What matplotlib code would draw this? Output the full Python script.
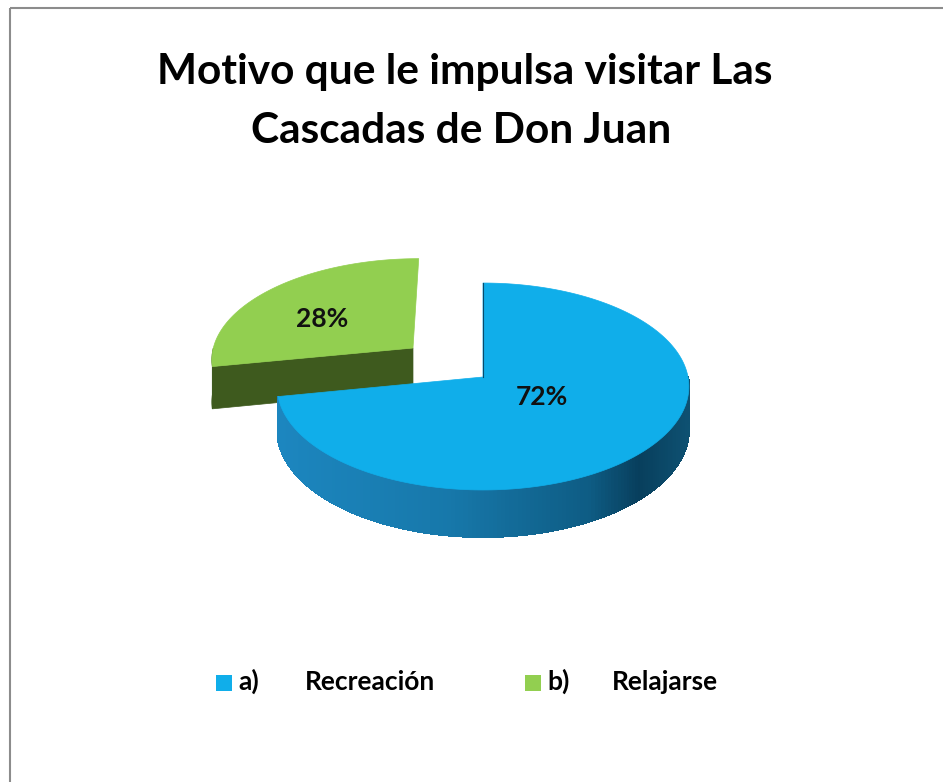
import numpy as np
import matplotlib.pyplot as plt
from matplotlib.patches import Polygon, Rectangle
from matplotlib.colors import to_rgb

# Survey data
letters = ['a)', 'b)']
names = ['Recreación', 'Relajarse']
values = [72, 28]
pct_labels = ['72%', '28%']

top_colors = ['#10AEEA', '#92CF50']
side_green = '#3E5A1E'
# blue rim shading stops (screen x -> colour)
rim_x = [281, 450, 590, 640, 690]
rim_c = ['#1C86BF', '#1778AA', '#0E5C84', '#083F5D', '#0E5172']

title_lines = ['Motivo que le impulsa visitar Las', 'Cascadas de Don Juan']

# pie geometry in pixels (simple perspective)
CX, CY = 483, 377
A, B, K, H = 205, 102.6, 0.0918, 42.7
EXPLODE = 0.455

W, Hpx = 943, 782
fig = plt.figure(figsize=(W / 100, Hpx / 100), dpi=100)
ax = fig.add_axes([0, 0, 1, 1])
ax.set_xlim(0, W)
ax.set_ylim(Hpx, 0)
ax.axis('off')

FONT = 'Lato'


def proj(u, v, w=0.0):
    s = 1 + K * v
    return CX + A * u / s, CY - (B * v + H * w) / s


def arc(t0, t1, ou, ov, w=0.0, n=120):
    t = np.radians(np.linspace(t0, t1, n))
    return [proj(np.cos(a) + ou, np.sin(a) + ov, w) for a in t]


def rim_color(x):
    cols = np.array([to_rgb(c) for c in rim_c])
    return tuple(np.interp(x, rim_x, cols[:, i]) for i in range(3))


# slice angles, clockwise from 12 o'clock
total = sum(values)
start = 90.0
blue_end = start - values[0] / total * 360   # -169.2
green_end = blue_end - values[1] / total * 360  # -270

# exploded green slice
mid = np.radians((blue_end + green_end) / 2)
gu, gv = EXPLODE * np.cos(mid), EXPLODE * np.sin(mid)
e_ang = np.radians(blue_end)
eu, ev = np.cos(e_ang) + gu, np.sin(e_ang) + gv
face = [proj(gu, gv), proj(eu, ev), proj(eu, ev, -1), proj(gu, gv, -1)]
ax.add_patch(Polygon(face, closed=True, fc=side_green, ec=side_green, lw=0.5))
rim = arc(blue_end + 360, 180, gu, gv) + arc(180, blue_end + 360, gu, gv, -1)
ax.add_patch(Polygon(rim, closed=True, fc=side_green, ec=side_green, lw=0.5))
gtop = [proj(gu, gv)] + arc(green_end + 360, blue_end + 360, gu, gv)
ax.add_patch(Polygon(gtop, closed=True, fc=top_colors[1], ec=top_colors[1], lw=0.5))

# blue rim, drawn in thin strips for shading
ts = np.linspace(blue_end, 0, 160)
for a0, a1 in zip(ts[:-1], ts[1:]):
    p = arc(a0, a1, 0, 0, 0, 3) + arc(a1, a0, 0, 0, -1, 3)
    c = rim_color(np.mean([q[0] for q in p]))
    ax.add_patch(Polygon(p, closed=True, fc=c, ec=c, lw=0.8, antialiased=False))

btop = [proj(0, 0)] + arc(start, blue_end, 0, 0, 0, 240)
ax.add_patch(Polygon(btop, closed=True, fc=top_colors[0], ec=top_colors[0], lw=0.5))
# thin dark line on the cut edge
ax.plot([proj(0, 0)[0], proj(0, 1)[0]], [proj(0, 0)[1], proj(0, 1)[1]],
        color='#0B4A6A', lw=0.8)

# percentage labels
ax.text(542, 397, pct_labels[0], ha='center', va='center', fontsize=19,
        fontweight='bold', family=FONT, color='#111111')
ax.text(322, 319, pct_labels[1], ha='center', va='center', fontsize=19,
        fontweight='bold', family=FONT, color='#111111')

# title
ax.text(465, 84, title_lines[0], ha='center', va='baseline', fontsize=30.5,
        fontweight='bold', family=FONT)
ax.text(461, 143, title_lines[1], ha='center', va='baseline', fontsize=30.5,
        fontweight='bold', family=FONT)

# legend
sq_x = [216, 525]
let_x = [238, 547]
name_x = [305, 612]
for i in range(2):
    ax.add_patch(Rectangle((sq_x[i], 675), 16, 16, fc=top_colors[i], ec='none'))
    ax.text(let_x[i], 690, letters[i], ha='left', va='baseline', fontsize=19,
            fontweight='bold', family=FONT)
    ax.text(name_x[i], 690, names[i], ha='left', va='baseline', fontsize=19,
            fontweight='bold', family=FONT)

# frame lines (top and left)
ax.plot([9.5, W], [7.5, 7.5], color='#8C8C8C', lw=1.5, solid_capstyle='butt')
ax.plot([9.5, 9.5], [7.5, Hpx], color='#8C8C8C', lw=1.5, solid_capstyle='butt')

fig.savefig('out.png', dpi=100, facecolor='white')
